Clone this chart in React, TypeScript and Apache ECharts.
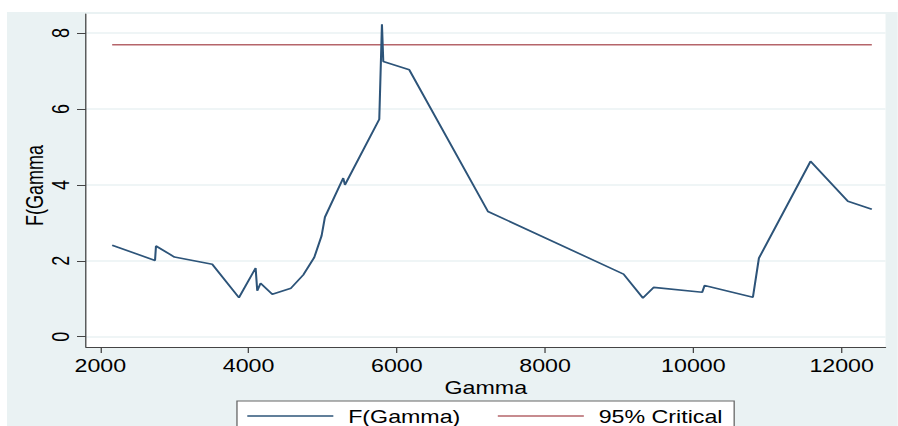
import React, { useEffect, useRef } from "react";
import * as echarts from "echarts";

// Data
const gammaValues = [2160, 2738, 2751, 3000, 3510, 3870, 4095, 4117, 4162, 4320, 4572, 4738, 4886, 4985, 5030, 5277, 5300, 5763, 5799, 5817, 6168, 7229, 9058, 9319, 9463, 10119, 10151, 10803, 10884, 11580, 12084, 12407];
const fGammaValues = [2.41, 2.01, 2.39, 2.10, 1.91, 1.03, 1.81, 1.21, 1.41, 1.12, 1.28, 1.63, 2.09, 2.66, 3.15, 4.18, 4.00, 5.73, 8.23, 7.25, 7.03, 3.30, 1.65, 1.02, 1.30, 1.17, 1.35, 1.04, 2.07, 4.62, 3.57, 3.36];
const criticalGamma = [2160, 12407];
const criticalValues = [7.69, 7.69];
const xTicks = [2000, 4000, 6000, 8000, 10000, 12000];
const yTicks = [0, 2, 4, 6, 8];
const seriesNames = ["F(Gamma)", "95% Critical"];

const S = 1.29; // horizontal stretch of the reference picture
const W = 898 / S;
const H = 426;
const FONT = "'Liberation Sans', Arial, sans-serif";

export default function App() {
  const ref = useRef<HTMLDivElement>(null);
  useEffect(() => {
    if (!ref.current) return;
    const chart = echarts.init(ref.current, undefined, { renderer: "svg" });
    chart.setOption({
      animation: false,
      backgroundColor: "#eaf2f3",
      textStyle: { fontFamily: FONT },
      graphic: [
        { type: "rect", shape: { x: 0, y: 0, width: W, height: 12 }, style: { fill: "#ffffff" } },
        { type: "rect", shape: { x: 0, y: 0, width: 7 / S, height: H }, style: { fill: "#ffffff" } },
        {
          type: "text",
          x: 34.4 / S,
          y: 185.5,
          rotation: Math.PI / 2,
          style: { text: "F(Gamma", fontSize: 18, fontFamily: FONT, fill: "#000", align: "center", verticalAlign: "middle" },
        },
      ],
      grid: {
        left: 86 / S,
        right: W - 885.7 / S,
        top: 14,
        bottom: H - 347,
        show: true,
        backgroundColor: "#ffffff",
        borderWidth: 0,
      },
      legend: {
        data: seriesNames,
        icon: "rect",
        left: 183.7,
        top: 401,
        itemWidth: 66.7,
        itemHeight: 1.6,
        itemGap: 29,
        padding: [6, 9, 6, 8],
        borderColor: "#666",
        borderWidth: 1,
        backgroundColor: "#ffffff",
        textStyle: { fontSize: 18, color: "#000", fontFamily: FONT, padding: [0, 0, 0, 6.5] },
      },
      xAxis: {
        type: "value",
        min: 1807,
        max: 12592,
        name: "Gamma",
        nameLocation: "middle",
        nameGap: 25,
        nameTextStyle: { fontSize: 18, color: "#000", fontFamily: FONT },
        axisLine: { show: true, onZero: false, lineStyle: { color: "#444", width: 1 } },
        axisTick: { show: true, customValues: xTicks, length: 6, lineStyle: { color: "#444", width: 1 } },
        axisLabel: {
          customValues: xTicks,
          fontSize: 18,
          color: "#000",
          margin: 9,
          fontFamily: FONT,
          formatter: (v: number) => String(v),
        },
        splitLine: { show: false },
      },
      yAxis: {
        type: "value",
        min: -0.27,
        max: 8.5,
        axisLine: { show: true, onZero: false, lineStyle: { color: "#444", width: 1 } },
        axisTick: { show: true, customValues: yTicks, length: 7, lineStyle: { color: "#444", width: 1 } },
        axisLabel: {
          customValues: yTicks,
          rotate: 90,
          fontSize: 18,
          color: "#000",
          margin: 11,
          fontFamily: FONT,
          formatter: (v: number) => String(v),
        },
        splitLine: { show: true, lineStyle: { color: "#eaf2f3", width: 1.5 } },
      },
      series: [
        {
          name: seriesNames[0],
          type: "line",
          symbol: "none",
          data: gammaValues.map((g, i) => [g, fGammaValues[i]]),
          lineStyle: { color: "#2d5479", width: 1.6 },
          itemStyle: { color: "#2d5479" },
          z: 3,
        },
        {
          name: seriesNames[1],
          type: "line",
          symbol: "none",
          data: criticalGamma.map((g, i) => [g, criticalValues[i]]),
          lineStyle: { color: "#b5656a", width: 1.5 },
          itemStyle: { color: "#b5656a" },
          z: 2,
        },
      ],
    });
    return () => chart.dispose();
  }, []);
  return (
    <div style={{ position: "absolute", left: 0, top: 0, width: 898, height: H, overflow: "hidden", background: "#fff" }}>
      <div ref={ref} style={{ width: W, height: H, transform: `scaleX(${S})`, transformOrigin: "0 0" }} />
    </div>
  );
}
